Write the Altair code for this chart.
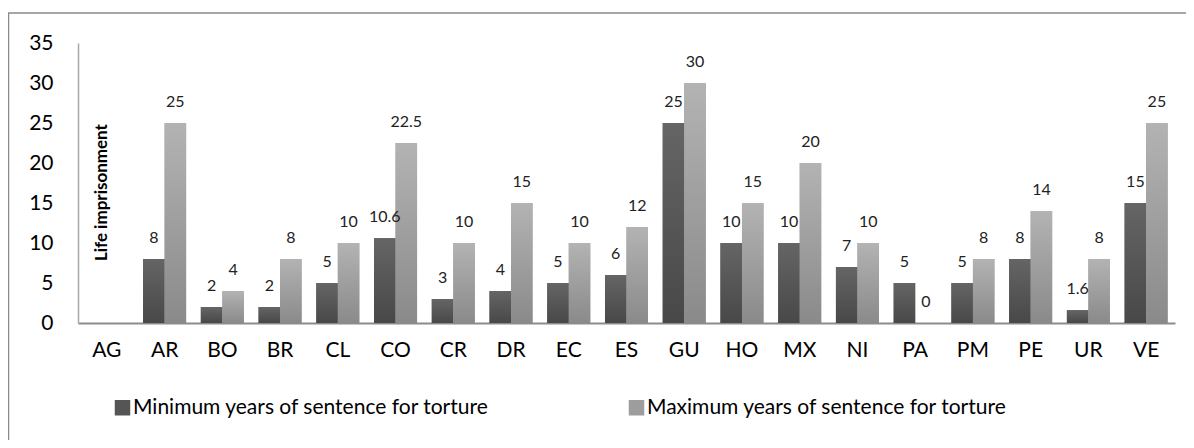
import altair as alt
import pandas as pd

countries = ["AG", "AR", "BO", "BR", "CL", "CO", "CR", "DR", "EC", "ES",
             "GU", "HO", "MX", "NI", "PA", "PM", "PE", "UR", "VE"]
min_years = [None, 8, 2, 2, 5, 10.6, 3, 4, 5, 6, 25, 10, 10, 7, 5, 5, 8, 1.6, 15]
max_years = [None, 25, 4, 8, 10, 22.5, 10, 15, 10, 12, 30, 15, 20, 10, 0, 8, 14, 8, 25]
series_names = ["Minimum years of sentence for torture",
                "Maximum years of sentence for torture"]
y_ticks = [0, 5, 10, 15, 20, 25, 30, 35]
note_country = ["AG"]
note_value = [16.3]
note_text = ["Life imprisonment"]

rows = []
for c, a, b in zip(countries, min_years, max_years):
    rows.append({"country": c, "series": series_names[0], "value": a})
    rows.append({"country": c, "series": series_names[1], "value": b})
df = pd.DataFrame(rows)
note_df = pd.DataFrame({"country": note_country, "value": note_value, "label": note_text})

FONT = "Lato"

x_enc = alt.X("country:N", sort=countries,
              scale=alt.Scale(domain=countries, paddingInner=0.255, paddingOuter=0.1275),
              axis=alt.Axis(labelAngle=0, ticks=False, title=None, labelFont=FONT,
                            labelFontSize=21, labelColor="black", labelPadding=16,
                            labelOverlap=False,
                            domainColor="#8c8c8c", domainWidth=2, grid=False))
xo_enc = alt.XOffset("series:N", scale=alt.Scale(domain=series_names, paddingInner=0, paddingOuter=0))
y_enc = alt.Y("value:Q", scale=alt.Scale(domain=[0, 35], nice=False),
              axis=alt.Axis(values=y_ticks, ticks=False, title=None, labelOverlap=False,
                            labelFont=FONT, labelFontSize=21, labelColor="black",
                            labelPadding=25, domainColor="#a8a8a8", domainWidth=1.5, grid=False))

base = alt.Chart(df).transform_filter("isValid(datum.value)")

flat = base.mark_bar().encode(
    x=x_enc, xOffset=xo_enc, y=y_enc,
    color=alt.Color("series:N",
                    scale=alt.Scale(domain=series_names, range=["#555555", "#9d9d9d"]),
                    legend=alt.Legend(orient="none", legendX=34, legendY=354,
                                      direction="horizontal", title=None,
                                      symbolType="square", symbolSize=240,
                                      symbolStrokeWidth=0, labelFont=FONT,
                                      labelFontSize=21, labelColor="black",
                                      labelOffset=0, columnPadding=136, labelLimit=0)),
)

def grad(top, bottom):
    return alt.LinearGradient(gradient="linear", x1=0, y1=0, x2=0, y2=1,
                              stops=[alt.GradientStop(color=top, offset=0),
                                     alt.GradientStop(color=bottom, offset=1)])

min_bars = base.transform_filter(alt.datum.series == series_names[0]).mark_bar(
    color=grad("#656565", "#484848")).encode(x=x_enc, xOffset=xo_enc, y=y_enc)
max_bars = base.transform_filter(alt.datum.series == series_names[1]).mark_bar(
    color=grad("#b3b3b3", "#8a8a8a")).encode(x=x_enc, xOffset=xo_enc, y=y_enc)

labels = base.mark_text(font=FONT, fontSize=16, color="#222222", baseline="middle",
                        dy=-21).encode(x=x_enc, xOffset=xo_enc, y=y_enc,
                                       text=alt.Text("value:Q"))

note = alt.Chart(note_df).mark_text(font=FONT, fontSize=17, fontWeight="bold",
                                    color="black", angle=270, baseline="middle",
                                    align="center", dy=-5).encode(
    x=x_enc, y=y_enc, text="label:N")

border = alt.Chart(alt.Data(values=[{"k": 1}])).mark_rect(
    fill="transparent", stroke="#8a8a8a", strokeWidth=1.5).encode(
    x=alt.value(-69.5), x2=alt.value(1300), y=alt.value(-30), y2=alt.value(600))

chart = alt.layer(flat, min_bars, max_bars, labels, note, border).properties(
    width=1097, height=280,
    autosize=alt.AutoSizeParams(type="none"),
    padding={"left": 70, "top": 35, "right": 11, "bottom": 117},
).configure_view(stroke=None)

chart.save("out.html", embed_options={"renderer": "svg", "actions": False})
